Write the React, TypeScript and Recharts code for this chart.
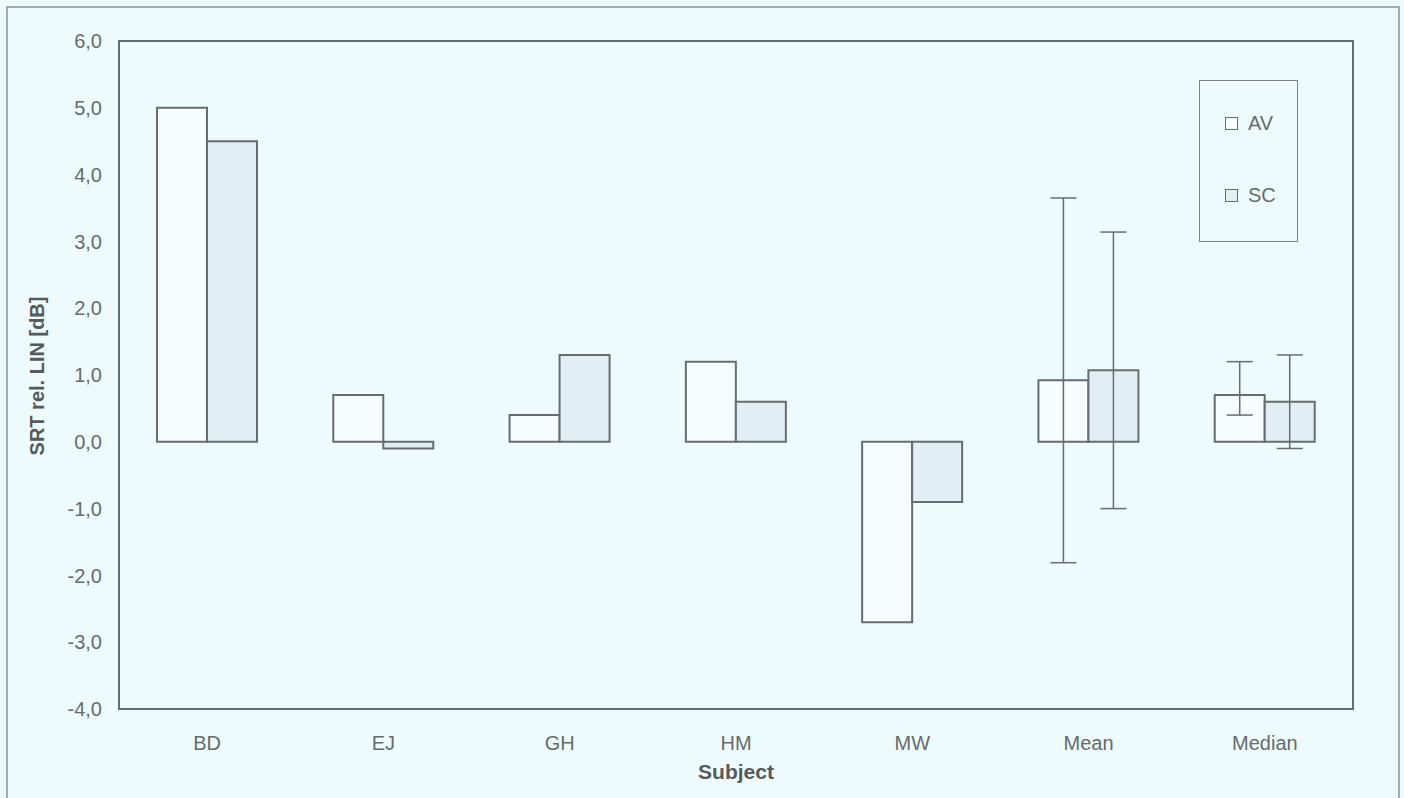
import React from 'react'
import {
  BarChart,
  Bar,
  XAxis,
  YAxis,
  ErrorBar,
  ReferenceArea,
  Legend,
} from 'recharts'

const subjects = ['BD', 'EJ', 'GH', 'HM', 'MW', 'Mean', 'Median']
const avValues = [5.0, 0.7, 0.4, 1.2, -2.7, 0.92, 0.7]
const scValues = [4.5, -0.1, 1.3, 0.6, -0.9, 1.07, 0.6]
// error bars only on the summary columns: [down, up]
const avErrors = [null, null, null, null, null, [2.73, 2.73], [0.3, 0.5]]
const scErrors = [null, null, null, null, null, [2.07, 2.07], [0.7, 0.7]]
const yTicks = [-4, -3, -2, -1, 0, 1, 2, 3, 4, 5, 6]

const data = subjects.map((name, i) => ({
  name,
  AV: avValues[i],
  SC: scValues[i],
  avErr: avErrors[i],
  scErr: scErrors[i],
}))

const FONT = '"Liberation Sans", Arial, sans-serif'
const BG = '#eefbfc'
const INK = '#666b6c'
const EDGE = '#676d6e'

const fmt = (v: number) => v.toFixed(1).replace('.', ',')

function LegendBox({ payload }: any) {
  return (
    <div
      style={{
        width: 99,
        height: 162,
        border: '1.5px solid #7d8385',
        boxSizing: 'border-box',
        fontFamily: FONT,
        fontSize: 20,
        color: INK,
        paddingTop: 30,
        paddingLeft: 25,
      }}
    >
      {(payload || []).map((p: any, i: number) => (
        <div
          key={p.value}
          style={{ display: 'flex', alignItems: 'center', height: 24, marginTop: i ? 48 : 0 }}
        >
          <span
            style={{
              width: 11,
              height: 11,
              border: `1.5px solid ${EDGE}`,
              background: p.color,
              marginRight: 10,
            }}
          />
          <span>{p.value}</span>
        </div>
      ))}
    </div>
  )
}

export default function App() {
  return (
    <div
      style={{
        position: 'fixed',
        left: 0,
        top: 0,
        width: 1404,
        height: 798,
        background: BG,
        overflow: 'hidden',
      }}
    >
      <div
        style={{
          position: 'absolute',
          left: 6,
          top: 6,
          width: 1394,
          height: 820,
          border: '2px solid #a4aaac',
          boxSizing: 'border-box',
        }}
      />
      <div style={{ position: 'absolute', left: 0, top: 0 }}>
        <BarChart
          width={1404}
          height={798}
          data={data}
          margin={{ top: 41, right: 51, bottom: 0, left: 0 }}
          barGap={0}
        >
          <ReferenceArea
            y1={-4}
            y2={6}
            fill="none"
            stroke={EDGE}
            strokeWidth={2}
            ifOverflow="visible"
          />
          <XAxis
            dataKey="name"
            height={89}
            tickLine={false}
            axisLine={false}
            tickSize={0}
            tickMargin={27}
            tick={{ fill: INK, fontSize: 20, fontFamily: FONT }}
            label={{
              content: () => (
                <text
                  x={736}
                  y={779}
                  textAnchor="middle"
                  fill="#555a5b"
                  fontSize={21}
                  fontWeight="bold"
                  fontFamily={FONT}
                >
                  Subject
                </text>
              ),
            }}
          />
          <YAxis
            width={119}
            domain={[-4, 6]}
            ticks={yTicks}
            interval={0}
            tickFormatter={fmt}
            tickLine={false}
            axisLine={false}
            tickSize={0}
            tickMargin={17}
            tick={{ fill: INK, fontSize: 20, fontFamily: FONT }}
            label={{
              content: () => (
                <text
                  x={44}
                  y={376}
                  transform="rotate(-90 44 376)"
                  textAnchor="middle"
                  fill="#555a5b"
                  fontSize={20}
                  fontWeight="bold"
                  fontFamily={FONT}
                >
                  SRT rel. LIN [dB]
                </text>
              ),
            }}
          />
          <Legend
            layout="horizontal"
            verticalAlign="middle"
            align="center"
            content={<LegendBox />}
            wrapperStyle={{ position: 'absolute', left: 1199, top: 80, width: 99, height: 162 }}
          />
          <Bar
            dataKey="AV"
            barSize={50}
            fill="#f7fdfd"
            stroke={EDGE}
            strokeWidth={2}
            isAnimationActive={false}
          >
            <ErrorBar dataKey="avErr" width={13} stroke={EDGE} strokeWidth={1.5} />
          </Bar>
          <Bar
            dataKey="SC"
            barSize={50}
            fill="#e1eef3"
            stroke={EDGE}
            strokeWidth={2}
            isAnimationActive={false}
          >
            <ErrorBar dataKey="scErr" width={13} stroke={EDGE} strokeWidth={1.5} />
          </Bar>
        </BarChart>
      </div>
    </div>
  )
}
